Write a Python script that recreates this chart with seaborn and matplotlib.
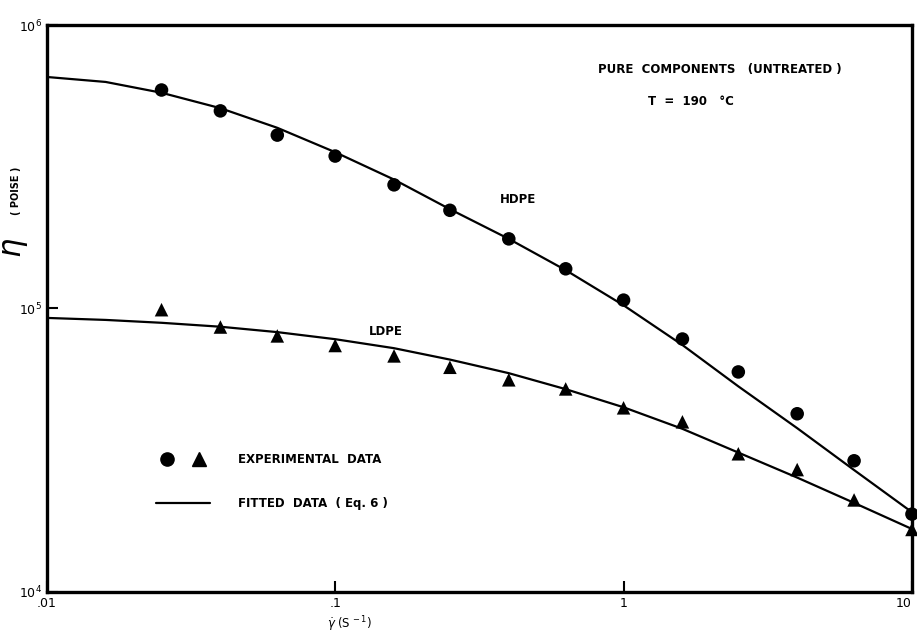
import pandas as pd
import matplotlib
matplotlib.use('Agg')
import matplotlib.pyplot as plt
import seaborn as sns
from matplotlib.legend_handler import HandlerTuple
from matplotlib.lines import Line2D

# Dữ liệu (shear rate, độ nhớt)
shear_rate = [0.025, 0.04, 0.063, 0.1, 0.16, 0.25, 0.4, 0.63, 1.0, 1.6, 2.5, 4.0, 6.3, 10.0]
hdpe_exp = [5.9e5, 4.98e5, 4.09e5, 3.45e5, 2.73e5, 2.22e5, 1.76e5, 1.38e5, 1.07e5,
            7.8e4, 5.97e4, 4.25e4, 2.9e4, 1.88e4]
ldpe_exp = [9.9e4, 8.6e4, 8.0e4, 7.4e4, 6.8e4, 6.2e4, 5.6e4, 5.2e4, 4.46e4,
            3.98e4, 3.07e4, 2.7e4, 2.11e4, 1.66e4]

# Đường fit (Eq. 6)
fit_rate = [0.01, 0.016, 0.025, 0.04, 0.063, 0.1, 0.16, 0.25, 0.4, 0.63,
            1.0, 1.6, 2.5, 4.0, 6.3, 10.0]
hdpe_fit = [6.56e5, 6.3e5, 5.77e5, 5.09e5, 4.34e5, 3.56e5, 2.85e5, 2.24e5, 1.76e5, 1.365e5,
            1.026e5, 7.43e4, 5.31e4, 3.78e4, 2.69e4, 1.91e4]
ldpe_fit = [9.26e4, 9.11e4, 8.9e4, 8.62e4, 8.25e4, 7.79e4, 7.24e4, 6.6e4, 5.91e4, 5.19e4,
            4.48e4, 3.76e4, 3.1e4, 2.53e4, 2.06e4, 1.666e4]

x_ticks = [0.01, 0.1, 1, 10]
x_tick_labels = ['.01', '.1', '1', '10']
y_ticks = [1e4, 1e5, 1e6]
y_tick_labels = [r'$10^4$', r'$10^5$', r'$10^6$']

exp_df = pd.DataFrame({
    'rate': shear_rate * 2,
    'eta': hdpe_exp + ldpe_exp,
    'polymer': ['HDPE'] * len(shear_rate) + ['LDPE'] * len(shear_rate),
})
fit_df = pd.DataFrame({
    'rate': fit_rate * 2,
    'eta': hdpe_fit + ldpe_fit,
    'polymer': ['HDPE'] * len(fit_rate) + ['LDPE'] * len(fit_rate),
})

sns.set_theme(style='ticks')
plt.rcParams['font.family'] = ['DejaVu Sans']
plt.rcParams['text.color'] = 'black'
plt.rcParams['axes.labelcolor'] = 'black'
plt.rcParams['xtick.color'] = 'black'
plt.rcParams['ytick.color'] = 'black'
plt.rcParams['axes.edgecolor'] = 'black'

fig = plt.figure(figsize=(9.17, 6.35), dpi=100)
ax = fig.add_axes([0.051, 0.068, 0.9435, 0.8925])

sns.lineplot(data=fit_df, x='rate', y='eta', units='polymer', estimator=None,
             color='black', linewidth=1.6, ax=ax, legend=False)
sns.scatterplot(data=exp_df, x='rate', y='eta', style='polymer',
                markers={'HDPE': 'o', 'LDPE': '^'}, color='black', s=95,
                edgecolor='black', linewidth=0, ax=ax, legend=False, zorder=3,
                clip_on=False)

ax.set_xscale('log')
ax.set_yscale('log')
ax.set_xlim(0.01, 10)
ax.set_ylim(1e4, 1e6)
ax.set_xticks(x_ticks)
ax.set_xticklabels(x_tick_labels)
ax.set_yticks(y_ticks)
ax.set_yticklabels(y_tick_labels)
ax.minorticks_off()
ax.tick_params(axis='both', direction='in', length=8, width=1.5, labelsize=9)
ax.tick_params(axis='x', pad=4)
ax.get_xticklabels()[-1].set_horizontalalignment('right')
for sp in ax.spines.values():
    sp.set_linewidth(2.4)
    sp.set_visible(True)
    sp.set_color('black')

ax.set_xlabel(r'$\dot{\gamma}\;(\mathrm{S}^{\,-1})$', fontsize=8.5)
ax.xaxis.set_label_coords(0.35, -0.039)
ax.set_ylabel('')

# Nhãn trục y: eta lớn và (POISE) nhỏ
fig.text(0.017, 0.61, r'$\eta$', fontsize=22, rotation=90, ha='center', va='center')
fig.text(0.017, 0.70, '( POISE )', fontsize=7, fontweight='bold', rotation=90,
         ha='center', va='center')

txt = dict(fontsize=8.5, fontweight='bold', color='black')
ax.text(0.7775, 0.922, 'PURE  COMPONENTS   (UNTREATED )', ha='center', va='center',
        transform=ax.transAxes, **txt)
ax.text(0.745, 0.866, 'T  =  190   °C', ha='center', va='center',
        transform=ax.transAxes, **txt)
ax.text(0.545, 0.693, 'HDPE', ha='center', va='center', transform=ax.transAxes, **txt)
ax.text(0.392, 0.460, 'LDPE', ha='center', va='center', transform=ax.transAxes, **txt)

# Chú thích
h_circle = Line2D([], [], marker='o', color='black', linestyle='none', markersize=9.5)
h_tri = Line2D([], [], marker='^', color='black', linestyle='none', markersize=9.5)
h_line = Line2D([], [], color='black', linewidth=1.6)
leg = ax.legend([(h_circle, h_tri), h_line],
                ['EXPERIMENTAL  DATA', 'FITTED  DATA  ( Eq. 6 )'],
                handler_map={tuple: HandlerTuple(ndivide=None, pad=0.8)},
                loc='upper left', bbox_to_anchor=(0.12, 0.255), frameon=False,
                borderpad=0, handlelength=4.5, handletextpad=2.4, labelspacing=2.6,
                prop={'size': 8.5, 'weight': 'bold'})
for t in leg.get_texts():
    t.set_color('black')

fig.savefig('out.png', dpi=100)
